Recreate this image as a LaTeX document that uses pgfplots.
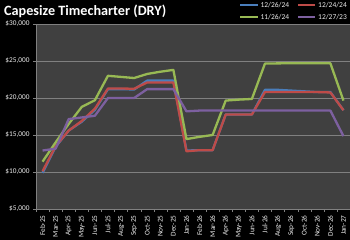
\documentclass[border=0pt]{standalone}
\usepackage{fontspec}
\setmainfont{Carlito}
\usepackage{pgfplots}
\pgfplotsset{compat=1.18}
\definecolor{sBlue}{RGB}{74,126,187}
\definecolor{sRed}{RGB}{190,75,72}
\definecolor{sGreen}{RGB}{152,185,84}
\definecolor{sPurple}{RGB}{125,96,160}
\definecolor{plotbg}{RGB}{64,64,64}
\definecolor{gridc}{RGB}{128,128,128}
\definecolor{txt}{RGB}{235,235,235}
\begin{document}
\begin{tikzpicture}[x=1pt,y=1pt]
\fill[black] (0,0) rectangle (350,240);
\node[anchor=west, text=white, font=\bfseries\fontsize{14.2}{17}\selectfont, inner sep=0pt] at (4,229) {Capesize Timecharter (DRY)};
\begin{axis}[
  at={(36pt,31pt)}, anchor=south west,
  scale only axis, width=314pt, height=185pt,
  xmin=-0.5, xmax=23.5, ymin=5000, ymax=30000,
  axis background/.style={fill=plotbg},
  axis line style={gridc},
  axis x line*=bottom, axis y line*=left,
  xtick={0,...,23},
  xticklabels={Feb-25,Mar-25,Apr-25,May-25,Jun-25,Jul-25,Aug-25,Sep-25,Oct-25,Nov-25,Dec-25,Jan-26,Feb-26,Mar-26,Apr-26,May-26,Jun-26,Jul-26,Aug-26,Sep-26,Oct-26,Nov-26,Dec-26,Jan-27},
  x tick label style={rotate=90, anchor=east, font=\fontsize{7.3}{8}\selectfont, text=txt},
  major x tick style={draw=none},
  minor xtick={-0.5,0.5,...,23.5},
  minor x tick style={gridc},
  minor tick length=3pt,
  tick align=outside,
  scaled y ticks=false,
  ytick={5000,10000,15000,20000,25000,30000},
  yticklabels={{\$5,000},{\$10,000},{\$15,000},{\$20,000},{\$25,000},{\$30,000}},
  y tick label style={font=\fontsize{7.3}{8}\selectfont, text=txt},
  major y tick style={gridc},
  major tick length=3pt,
  ymajorgrids, major grid style={gridc, line width=0.8pt},
  legend style={at={(1,1)}, anchor=south east, draw=none, fill=none, text=txt,
    font=\fontsize{7.5}{9}\selectfont, legend columns=2,
    /tikz/every even column/.append style={column sep=6pt},
    row sep=1.5pt, inner sep=1pt},
  legend image post style={line width=2pt},
  legend cell align=left,
  every axis plot/.append style={line width=2.3pt, mark=none, line join=round},
]
\addplot[sBlue] coordinates {(0,9880)(1,13400)(2,15600)(3,16800)(4,18400)(5,21200)(6,21200)(7,21150)(8,22350)(9,22350)(10,22350)(11,12900)(12,12950)(13,12950)(14,17770)(15,17770)(16,17770)(17,21100)(18,21100)(19,21000)(20,20900)(21,20800)(22,20800)(23,18350)};
\addlegendentry{12/26/24}
\addplot[sRed] coordinates {(0,10100)(1,13500)(2,15600)(3,16900)(4,18550)(5,21280)(6,21280)(7,21250)(8,22100)(9,22100)(10,22100)(11,12800)(12,12950)(13,12950)(14,17770)(15,17770)(16,17770)(17,20800)(18,20800)(19,20800)(20,20800)(21,20800)(22,20750)(23,18350)};
\addlegendentry{12/24/24}
\addplot[sGreen] coordinates {(0,11400)(1,14000)(2,16500)(3,18800)(4,19700)(5,23000)(6,22850)(7,22700)(8,23250)(9,23550)(10,23800)(11,14450)(12,14750)(13,15000)(14,19650)(15,19780)(16,19870)(17,24650)(18,24680)(19,24690)(20,24690)(21,24690)(22,24690)(23,19650)};
\addlegendentry{11/26/24}
\addplot[sPurple] coordinates {(0,12900)(1,13150)(2,17150)(3,17370)(4,17600)(5,20000)(6,20000)(7,20000)(8,21200)(9,21200)(10,21200)(11,18200)(12,18300)(13,18300)(14,18300)(15,18300)(16,18300)(17,18300)(18,18300)(19,18300)(20,18300)(21,18300)(22,18300)(23,14850)};
\addlegendentry{12/27/23}
\end{axis}
\pgfresetboundingbox
\path (0,0) rectangle (350,240);
\end{tikzpicture}
\end{document}
